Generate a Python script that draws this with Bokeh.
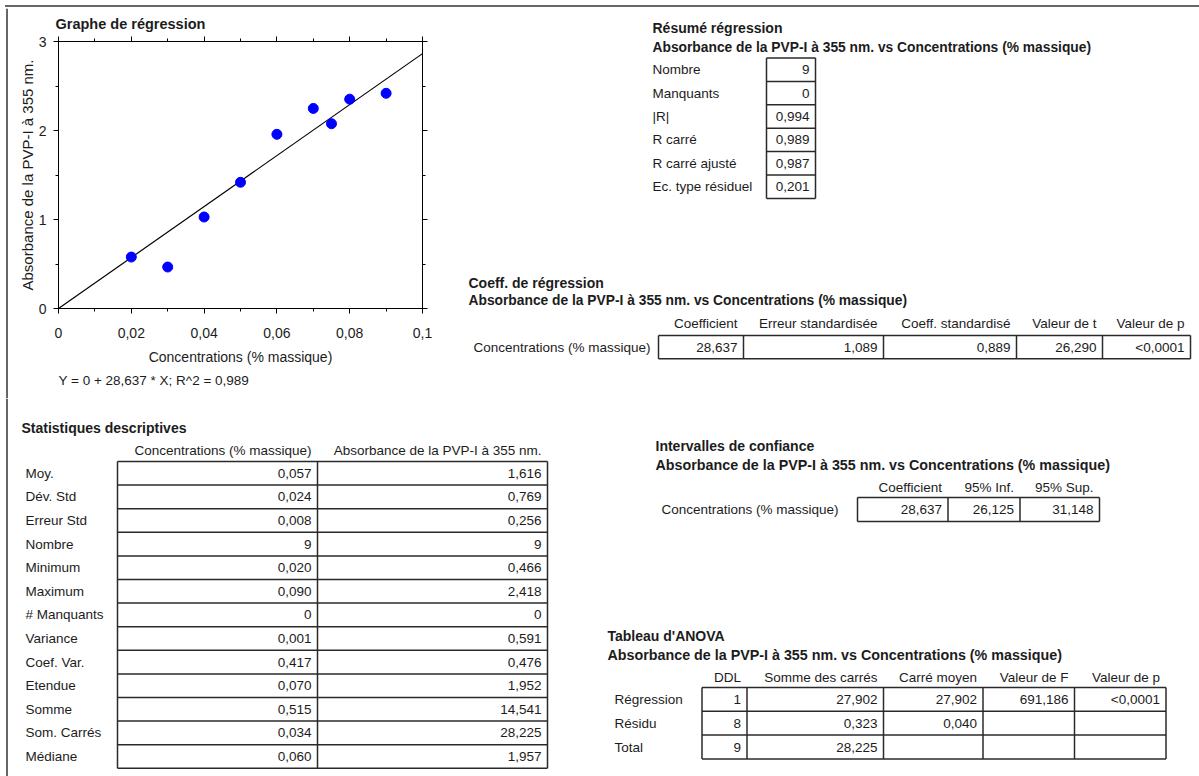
from bokeh.plotting import figure
from bokeh.models import (Range1d, LinearAxis, SingleIntervalTicker, CustomJSTickFormatter,
                          Title, ColumnDataSource, Div)
from bokeh.layouts import column, row
from bokeh.core.properties import value
from bokeh.embed import file_html
from bokeh.resources import INLINE
import numpy as np

# ---------------- data ----------------
conc = [0.02, 0.03, 0.04, 0.05, 0.06, 0.07, 0.075, 0.08, 0.09]
absorb = [0.578, 0.466, 1.028, 1.418, 1.957, 2.248, 2.076, 2.352, 2.418]
slope = 28.637
intercept = 0.0
equation = "Y = 0 + 28,637 * X; R^2 = 0,989"
plot_title = "Graphe de régression"
x_label = "Concentrations (% massique)"
y_label = "Absorbance de la PVP-I à 355 nm."
subtitle = "Absorbance de la PVP-I à 355 nm. vs Concentrations (% massique)"

resume_title = "Résumé régression"
resume_labels = ["Nombre", "Manquants", "|R|", "R carré", "R carré ajusté", "Ec. type résiduel"]
resume_values = ["9", "0", "0,994", "0,989", "0,987", "0,201"]

coef_title = "Coeff. de régression"
coef_headers = ["Coefficient", "Erreur standardisée", "Coeff. standardisé", "Valeur de t", "Valeur de p"]
coef_row_label = "Concentrations (% massique)"
coef_values = ["28,637", "1,089", "0,889", "26,290", "<0,0001"]

ci_title = "Intervalles de confiance"
ci_headers = ["Coefficient", "95% Inf.", "95% Sup."]
ci_row_label = "Concentrations (% massique)"
ci_values = ["28,637", "26,125", "31,148"]

stats_title = "Statistiques descriptives"
stats_headers = ["Concentrations (% massique)", "Absorbance de la PVP-I à 355 nm."]
stats_labels = ["Moy.", "Dév. Std", "Erreur Std", "Nombre", "Minimum", "Maximum", "# Manquants",
                "Variance", "Coef. Var.", "Etendue", "Somme", "Som. Carrés", "Médiane"]
stats_conc = ["0,057", "0,024", "0,008", "9", "0,020", "0,090", "0", "0,001", "0,417",
              "0,070", "0,515", "0,034", "0,060"]
stats_abs = ["1,616", "0,769", "0,256", "9", "0,466", "2,418", "0", "0,591", "0,476",
             "1,952", "14,541", "28,225", "1,957"]

anova_title = "Tableau d'ANOVA"
anova_headers = ["DDL", "Somme des carrés", "Carré moyen", "Valeur de F", "Valeur de p"]
anova_labels = ["Régression", "Résidu", "Total"]
anova_ddl = ["1", "8", "9"]
anova_ss = ["27,902", "0,323", "28,225"]
anova_ms = ["27,902", "0,040", ""]
anova_f = ["691,186", "", ""]
anova_p = ["<0,0001", "", ""]

# ---------------- styles ----------------
FONT = "Liberation Sans"
TXT = "#1c1c1c"
GRID = "#2a2a2a"
BORDER = "#666666"
REG = "13.5px"
BOLD = "14px"
BOLD_SUB = "13.8px"


def canvas(width, height, x0, x1, y0, y1):
    p = figure(width=width, height=height, x_range=Range1d(x0, x1), y_range=Range1d(y1, y0),
               output_backend="svg", toolbar_location=None, min_border=0, title=None,
               x_axis_location=None, y_axis_location=None)
    p.min_border_left = p.min_border_right = p.min_border_top = p.min_border_bottom = 0
    p.frame_align = False
    p.grid.visible = False
    p.outline_line_color = None
    p.background_fill_color = "white"
    p.border_fill_color = "white"
    return p


def texts(p, xs, ys, ts, align="left", size=REG, bold=False):
    src = ColumnDataSource(dict(x=list(xs), y=list(ys), t=list(ts)))
    p.text(x="x", y="y", text="t", source=src, text_align=align, text_baseline="middle",
           text_font=value(FONT), text_font_size=value(size),
           text_font_style="bold" if bold else "normal", text_color=TXT)


def grid_table(p, edges, top, row_h, cols, headers=None, header_y=None, pad=6):
    nrows = len(cols[0])
    bottom = top + nrows * row_h
    x0, y0, x1, y1 = [], [], [], []
    for i in range(nrows + 1):
        y = top + i * row_h
        x0.append(edges[0]); x1.append(edges[-1]); y0.append(y); y1.append(y)
    for e in edges:
        x0.append(e); x1.append(e); y0.append(top); y1.append(bottom)
    p.segment(x0=x0, y0=y0, x1=x1, y1=y1, line_color=GRID, line_width=1.5)
    xs, ys, ts = [], [], []
    for j, col in enumerate(cols):
        for i, v in enumerate(col):
            if v:
                xs.append(edges[j + 1] - pad); ys.append(top + (i + 0.5) * row_h); ts.append(v)
    texts(p, xs, ys, ts, align="right")
    if headers is not None:
        texts(p, [edges[j + 1] - pad for j in range(len(headers))], [header_y] * len(headers),
              headers, align="right")
    return [top + (i + 0.5) * row_h for i in range(nrows)]


def border(p, l, r, t, b):
    p.quad(left=[l], right=[r], top=[t], bottom=[b], fill_color=BORDER, line_color=None)


# ---------------- outer border ----------------
top_line = Div(text="", width=1194, height=2, margin=(5, 0, 1, 5),
               styles={"background-color": BORDER})
left_strip = canvas(8, 390, 0, 8, 8, 398)
border(left_strip, 5.5, 7.5, 8, 398)

# ---------------- regression plot ----------------
pA = figure(width=447, height=390, x_range=Range1d(0, 0.1), y_range=Range1d(0, 3),
            output_backend="svg", toolbar_location=None,
            min_border_left=50, min_border_right=33, min_border_top=33, min_border_bottom=90)
pA.frame_align = False
pA.grid.visible = False
pA.outline_line_color = "black"
pA.background_fill_color = "white"
pA.border_fill_color = "white"
pA.title.text = plot_title
pA.title.text_font = FONT
pA.title.text_font_size = "14.5px"
pA.title.text_font_style = "bold"
pA.title.text_color = TXT
pA.title.align = "left"
pA.title.offset = -3
pA.title.standoff = 9

xt = SingleIntervalTicker(interval=0.02, num_minor_ticks=2)
yt = SingleIntervalTicker(interval=1, num_minor_ticks=2)
fmt = CustomJSTickFormatter(code="return (Math.round(tick*100)/100).toString().replace('.', ',');")
blank = CustomJSTickFormatter(code="return '';")

ax = pA.xaxis[0]
ax.ticker = xt
ax.formatter = fmt
ay = pA.yaxis[0]
ay.ticker = yt
for a in (ax, ay):
    a.major_tick_out = 5
    a.major_tick_in = 0
    a.minor_tick_out = 3
    a.minor_tick_in = 0
    a.axis_line_color = "black"
    a.major_tick_line_color = "black"
    a.minor_tick_line_color = "black"
    a.major_label_text_font = FONT
    a.major_label_text_font_size = "14px"
    a.major_label_text_color = TXT
    a.axis_label_text_font = FONT
    a.axis_label_text_font_size = "14px"
    a.axis_label_text_font_style = "normal"
    a.axis_label_text_color = TXT
ax.axis_label = x_label
ax.major_label_standoff = 14
ax.axis_label_standoff = 8
ay.axis_label = y_label
ay.axis_label_text_font_size = "15px"
ay.major_label_standoff = 7
ay.axis_label_standoff = 0

top_ax = LinearAxis(ticker=SingleIntervalTicker(interval=0.02, num_minor_ticks=2),
                    formatter=blank, major_label_standoff=0,
                    major_tick_in=0, major_tick_out=5, minor_tick_in=0, minor_tick_out=3)
right_ax = LinearAxis(ticker=SingleIntervalTicker(interval=1, num_minor_ticks=2),
                      formatter=blank, major_label_standoff=0,
                      major_tick_in=0, major_tick_out=5, minor_tick_in=0, minor_tick_out=3)
pA.add_layout(top_ax, "above")
pA.add_layout(right_ax, "right")

eq = Title(text=equation, align="left", text_font=FONT, text_font_size="13.5px",
           text_font_style="normal", text_color=TXT, standoff=6)
pA.add_layout(eq, "below")

x_fit = np.array([pA.x_range.start, pA.x_range.end])
y_fit = intercept + slope * x_fit
pA.line(x_fit, y_fit, line_color="black", line_width=1.2)
pA.scatter(conc, absorb, size=10, fill_color="#0000ff", line_color="#0000ff")

# ---------------- top right tables ----------------
pB = canvas(744, 390, 455, 1199, 8, 398)

# Résumé régression
texts(pB, [652], [27], [resume_title], size=BOLD, bold=True)
texts(pB, [652], [46.5], [subtitle], size=BOLD_SUB, bold=True)
ys = grid_table(pB, [766, 815], 57.5, 23.4, [resume_values])
texts(pB, [652] * len(resume_labels), ys, resume_labels)

# Coeff. de régression
texts(pB, [468], [282], [coef_title], size=BOLD, bold=True)
texts(pB, [468], [300], [subtitle], size=BOLD_SUB, bold=True)
ys = grid_table(pB, [658, 743, 883, 1016, 1102, 1190], 335, 23.3,
                [[v] for v in coef_values], headers=coef_headers, header_y=323)
texts(pB, [473], ys, [coef_row_label])

# ---------------- bottom tables ----------------
pC = canvas(1199, 378, 0, 1199, 398, 776)
border(pC, 5.5, 7.5, 398, 776)

# Statistiques descriptives
texts(pC, [21], [427], [stats_title], size=BOLD, bold=True)
ys = grid_table(pC, [117, 317, 547], 461, 23.6, [stats_conc, stats_abs],
                headers=stats_headers, header_y=450)
texts(pC, [25] * len(stats_labels), ys, stats_labels)

# Intervalles de confiance
texts(pC, [655], [445], [ci_title], size=BOLD, bold=True)
texts(pC, [655], [464], [subtitle], size="14.3px", bold=True)
ys = grid_table(pC, [857, 947.5, 1019.5, 1099], 497, 24,
                [[v] for v in ci_values], headers=ci_headers, header_y=486.5)
texts(pC, [661], ys, [ci_row_label])

# Tableau d'ANOVA
texts(pC, [607], [635], [anova_title], size=BOLD, bold=True)
texts(pC, [607], [654], [subtitle], size="14.3px", bold=True)
ys = grid_table(pC, [701.5, 746.5, 883, 982.5, 1074, 1165.5], 687, 23.8,
                [anova_ddl, anova_ss, anova_ms, anova_f, anova_p],
                headers=anova_headers, header_y=677)
texts(pC, [614] * len(anova_labels), ys, anova_labels)

layout = column(top_line, row(left_strip, pA, pB), pC)
open("out.html", "w").write(file_html(layout, INLINE))
